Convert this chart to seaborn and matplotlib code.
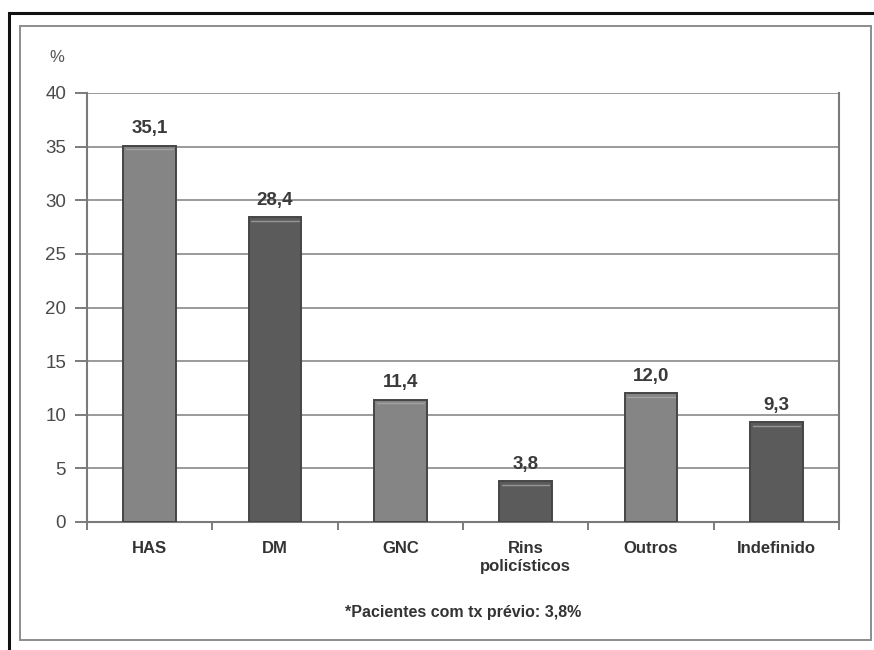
import matplotlib
matplotlib.use("Agg")
import matplotlib.pyplot as plt
from matplotlib.patches import Rectangle
import seaborn as sns
import pandas as pd
import numpy as np

categories = ["HAS", "DM", "GNC", "Rins\npolicísticos", "Outros", "Indefinido"]
values = [35.1, 28.4, 11.4, 3.8, 12.0, 9.3]
value_labels = ["35,1", "28,4", "11,4", "3,8", "12,0", "9,3"]
y_ticks = [0, 5, 10, 15, 20, 25, 30, 35, 40]
footnote = "*Pacientes com tx prévio: 3,8%"

sns.set_theme(style="white")
plt.rcParams["font.family"] = ["Liberation Sans", "DejaVu Sans"]

W, H = 874, 650
fig = plt.figure(figsize=(W / 100, H / 100), dpi=100)
ax = fig.add_axes([87 / W, 1 - 522 / H, (839 - 87) / W, (522 - 93) / H])

df = pd.DataFrame({"cat": categories, "val": values})
light, dark = "#858585", "#5b5b5b"
palette = {c: (light if i % 2 == 0 else dark) for i, c in enumerate(categories)}

sns.barplot(data=df, x="cat", y="val", hue="cat", palette=palette,
            dodge=False, legend=False, width=0.42, saturation=1,
            edgecolor="#454545", linewidth=1.4, ax=ax, zorder=3)

ax.set_xlim(-0.5, len(categories) - 0.5)
ax.set_ylim(0, 40)
ax.set_yticks(y_ticks)
ax.set_yticklabels([str(t) for t in y_ticks], fontsize=13.5, color="#4a4a4a")
ax.yaxis.grid(True, color="#9a9a9a", linewidth=1.4, zorder=0)
ax.set_axisbelow(True)

# category labels without ticks, ticks placed on the boundaries between bars
ax.set_xticks(range(len(categories)))
ax.set_xticklabels(categories, fontsize=12, fontweight="bold", color="#333333",
                   linespacing=1.2, va="top")
ax.tick_params(axis="x", which="major", length=0, pad=14)
ax.set_xticks(np.arange(-0.5, len(categories), 1.0), minor=True)
ax.tick_params(axis="x", which="minor", length=6, width=1.2, color="#666666",
               direction="out", bottom=True)
ax.tick_params(axis="y", length=9, width=1.2, color="#666666", direction="out",
               left=True, pad=6)

for side in ["left", "bottom", "right"]:
    ax.spines[side].set_visible(True)
    ax.spines[side].set_color("#7a7a7a")
    ax.spines[side].set_linewidth(1.5)
ax.spines["top"].set_visible(False)
ax.set_xlabel("")
ax.set_ylabel("")

# highlight stripe near the top of each bar
for bar in ax.patches:
    x0, w, h = bar.get_x(), bar.get_width(), bar.get_height()
    ax.plot([x0 + 0.05 * w, x0 + 0.95 * w], [h - 0.35, h - 0.35],
            color="#b0b0b0", linewidth=1.0, zorder=4, alpha=0.7)

for i, (v, lab) in enumerate(zip(values, value_labels)):
    ax.text(i, v + 0.8, lab, ha="center", va="bottom", fontsize=13.5,
            fontweight="bold", color="#3a3a3a")

fig.text(57 / W, 1 - 58 / H, "%", ha="center", va="center", fontsize=12,
         color="#555555")
fig.text(463 / W, 1 - 612 / H, footnote, ha="center", va="center",
         fontsize=11.5, fontweight="bold", color="#333333")

# outer frames
fig.patches.append(Rectangle((9 / W, -0.05), 1.1, 1 - 13 / H + 0.05,
                             transform=fig.transFigure, fill=False,
                             edgecolor="#111111", linewidth=2.2, zorder=0))
fig.patches.append(Rectangle((20 / W, 1 - 640 / H), (871 - 20) / W, (640 - 26) / H,
                             transform=fig.transFigure, fill=False,
                             edgecolor="#8c8c8c", linewidth=1.4, zorder=0))

fig.savefig("out.png", dpi=100, facecolor="white")
